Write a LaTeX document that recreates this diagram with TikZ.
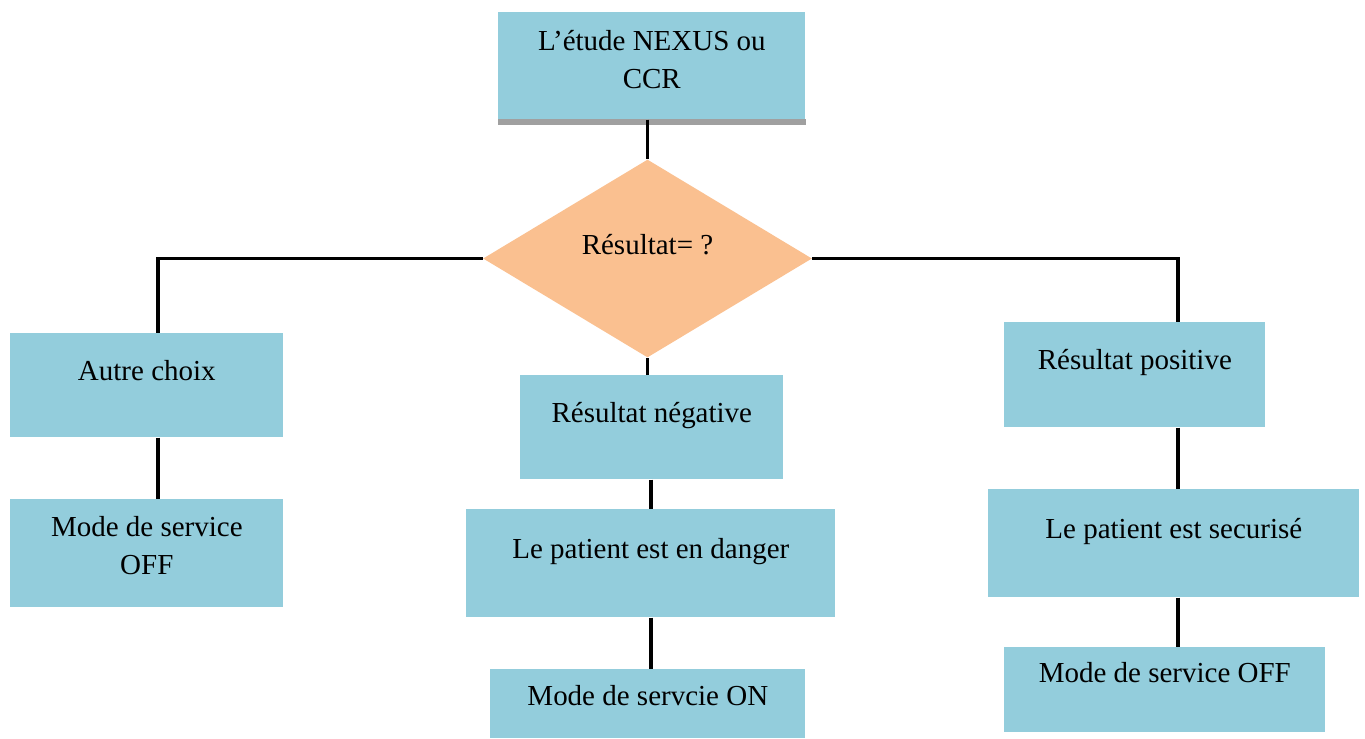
\documentclass[tikz,border=0pt]{standalone}
\usepackage{fontspec}
\setmainfont{Liberation Serif}
\usepackage{tikz}
\usetikzlibrary{shapes.geometric, positioning}

\definecolor{boxblue}{HTML}{93CDDC}
\definecolor{diaorange}{HTML}{FAC090}
\definecolor{bordergray}{HTML}{A0A0A0}

\begin{document}
\begin{tikzpicture}[x=0.02cm, y=-0.02cm,
    every node/.style={font=\fontsize{16.5}{21.5}\selectfont},
    box/.style={fill=boxblue, inner sep=0pt, anchor=north west},
    decision/.style={diamond, fill=diaorange, inner sep=0pt,
        minimum width=6.58cm, minimum height=3.96cm,
        text height=0.2cm, text depth=0.38cm},
    link/.style={line width=0.07cm}]
    \useasboundingbox (0,0) rectangle (1365,738);

    % Nodes
    \node[box, minimum width=6.14cm, text height=0.76cm, text depth=1.38cm] (Etude) at (498, 12)
        {\begin{tabular}[t]{@{}c@{}}L’étude NEXUS ou\\CCR\end{tabular}};
    \fill[bordergray] ([yshift=0.02cm]Etude.south west) rectangle ([yshift=-0.1cm]Etude.south east);
    \node[decision] (Res) at (647.5, 258.5) {Résultat= ?};

    \node[box, minimum width=5.46cm, text height=0.94cm, text depth=1.14cm] (Autre) at (10, 333) {Autre choix};
    \node[box, minimum width=5.46cm, text height=0.74cm, text depth=1.42cm] (OffG) at (10, 499)
        {\begin{tabular}[t]{@{}c@{}}Mode de service\\OFF\end{tabular}};

    \node[box, minimum width=5.26cm, text height=0.94cm, text depth=1.14cm] (Neg) at (520, 375) {Résultat négative};
    \node[box, minimum width=7.38cm, text height=0.98cm, text depth=1.18cm] (Danger) at (466, 509) {Le patient est en danger};
    \node[box, minimum width=6.30cm, text height=0.72cm, text depth=0.66cm] (On) at (490, 669) {Mode de servcie ON};

    \node[box, minimum width=5.22cm, text height=0.94cm, text depth=1.16cm] (Pos) at (1004, 322) {Résultat positive};
    \node[box, minimum width=7.42cm, text height=0.98cm, text depth=1.18cm] (Secur) at (988, 489) {Le patient est securisé};
    \node[box, minimum width=6.42cm, text height=0.70cm, text depth=1.00cm] (OffD) at (1004, 647) {Mode de service OFF};

    \coordinate (BusG) at (158, 259);
    \coordinate (BusD) at (1178, 259);

    % Paths
    \draw[link] (Res.north |- Etude.south) -- (Res.north);
    \draw[link] (Res.west) -| (BusG |- Autre.north);
    \draw[link] (Res.east) -| (BusD |- Pos.north);
    \draw[link] (Res.south) -- (Res.south |- Neg.north);

    \draw[link] (BusG |- Autre.south) -- (BusG |- OffG.north);

    \draw[link] (Danger.north |- Neg.south) -- (Danger.north);
    \draw[link] (Danger.south) -- (Danger.south |- On.north);

    \draw[link] (BusD |- Pos.south) -- (BusD |- Secur.north);
    \draw[link] (BusD |- Secur.south) -- (BusD |- OffD.north);
\end{tikzpicture}
\end{document}
